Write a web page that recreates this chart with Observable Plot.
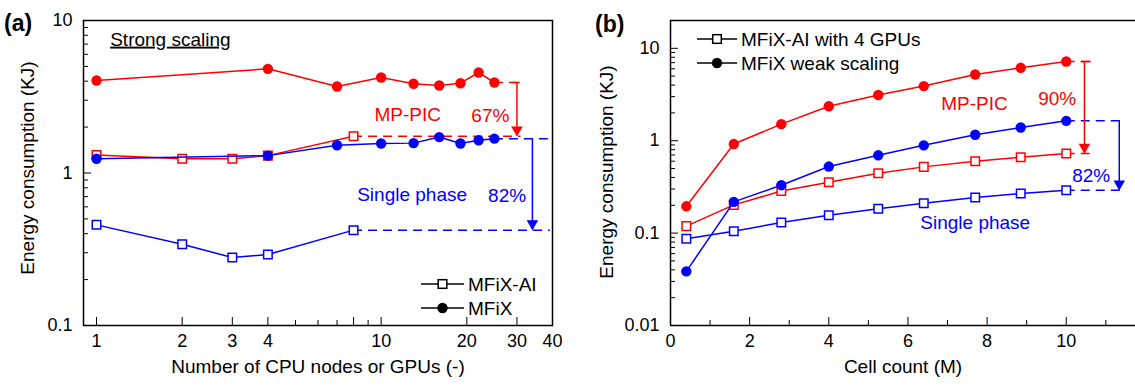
<!DOCTYPE html>
<html><head><meta charset="utf-8">
<script src="https://cdn.jsdelivr.net/npm/d3@7"></script>
<script src="https://cdn.jsdelivr.net/npm/@observablehq/plot@0.6"></script>
<style>
body{margin:0;background:#fff;overflow:hidden}
#wrap{position:relative;width:1135px;height:386px;font-family:"Liberation Sans",Arial,sans-serif;background:#fff}
#wrap > svg, #wrap > div.p{position:absolute;top:0}
.tag{position:absolute;font-weight:bold;font-size:23px;color:#000}
</style>
</head><body><div id="wrap"></div>
<script>
// ---------- data: panel (a) strong scaling ----------
const aNodes = [1, 4, 7, 10, 13, 16, 19, 22, 25];
const aMfixMPPIC = [4.04, 4.82, 3.69, 4.23, 3.85, 3.75, 3.88, 4.56, 3.92];
const aMfixSingle = [1.24, 1.30, 1.52, 1.56, 1.57, 1.72, 1.56, 1.64, 1.68];
const aGpus = [1, 2, 3, 4, 8];
const aAiMPPIC = [1.31, 1.24, 1.24, 1.30, 1.74];
const aAiSingle = [0.457, 0.341, 0.279, 0.292, 0.422];
const aXLabels = [1, 2, 3, 4, 8, 10, 20, 30, 40];
const aXMinor = [5, 6, 7, 9];
const aYLabels = [0.1, 1, 10];
const aYMinor = [0.2,0.3,0.4,0.5,0.6,0.7,0.8,0.9,2,3,4,5,6,7,8,9];

// ---------- data: panel (b) weak scaling ----------
const bCells = [0.4, 1.6, 2.8, 4.0, 5.25, 6.4, 7.7, 8.85, 10];
const bMfixMPPIC = [0.195, 0.92, 1.51, 2.36, 3.12, 3.90, 5.21, 6.15, 7.19];
const bMfixSingle = [0.0385, 0.218, 0.33, 0.525, 0.695, 0.891, 1.16, 1.39, 1.64];
const bAiMPPIC = [0.119, 0.202, 0.285, 0.356, 0.445, 0.521, 0.600, 0.662, 0.725];
const bAiSingle = [0.0869, 0.105, 0.130, 0.156, 0.183, 0.211, 0.243, 0.268, 0.291];
const bXLabels = [0, 2, 4, 6, 8, 10];
const bXMinor = [1, 3, 5, 7, 9, 11];
const bYLabels = [0.01, 0.1, 1, 10];
const bYMinor = [0.02,0.03,0.04,0.05,0.06,0.07,0.08,0.09,0.2,0.3,0.4,0.5,0.6,0.7,0.8,0.9,2,3,4,5,6,7,8,9,20];

const RED = "#ff0000", BLUE = "#0000ff";
const FONT = '"Liberation Sans", Arial, sans-serif';

function pts(xs, ys){ return xs.map((x,i)=>({x, y: ys[i]})); }
function series(xs, ys, color, kind){
  const d = pts(xs, ys);
  return [
    Plot.line(d, {x:"x", y:"y", stroke: color, strokeWidth: 1.5}),
    kind === "circle"
      ? Plot.dot(d, {x:"x", y:"y", r: 5.2, fill: color, stroke: "none"})
      : Plot.dot(d, {x:"x", y:"y", symbol: "square", r: 4.8, fill: "white", stroke: color, strokeWidth: 1.5})
  ];
}
function dashH(x1, x2, y, color){
  return Plot.ruleY([{x1, x2, y}], {x1:"x1", x2:"x2", y:"y", stroke: color, strokeWidth: 1.5, strokeDasharray: "9,6"});
}
function arrowV(x, y1, y2, color){
  return [
    Plot.ruleX([{x, y1, y2}], {x:"x", y1:"y1", y2:"y2", stroke: color, strokeWidth: 1.5}),
    Plot.dot([{x, y: y2}], {x:"x", y:"y", symbol:"triangle", rotate: 180, r: 4.3, fill: color, stroke: "none", dy: -6.5})
  ];
}
function cap(x1, x2, y, color){
  return Plot.ruleY([{x1, x2, y}], {x1:"x1", x2:"x2", y:"y", stroke: color, strokeWidth: 1.5});
}
function label(text, x, y, color, anchor){
  return Plot.text([{text, x, y}], {x:"x", y:"y", text:"text", fill: color, fontSize: 19, textAnchor: anchor || "middle", lineAnchor: "middle"});
}
function axes(xLab, xMin, yLab, yMin, xFmt){
  return [
    Plot.axisX({ticks: xLab, tickSize: -8, tickPadding: 17, tickFormat: xFmt || (d => String(d)), fontSize: 18, label: null}),
    Plot.axisX({ticks: xMin, tickSize: -5, tickFormat: () => "", label: null}),
    Plot.axisY({ticks: yLab, tickSize: -8, tickPadding: 19, tickFormat: d => String(d), fontSize: 18, label: null}),
    Plot.axisY({ticks: yMin, tickSize: -5, tickFormat: () => "", label: null})
  ];
}

const wrap = document.getElementById("wrap");

// ---------- panel (a) ----------
const aLastR = aMfixMPPIC[aMfixMPPIC.length-1], aLastB = aMfixSingle[aMfixSingle.length-1];
const aSqR = aAiMPPIC[aAiMPPIC.length-1], aSqB = aAiSingle[aAiSingle.length-1];
const plotA = Plot.plot({
  width: 565, height: 386,
  marginLeft: 83, marginRight: 13, marginTop: 20, marginBottom: 61,
  style: {fontFamily: FONT, fontSize: "18px", color: "#000", background: "transparent", overflow: "visible"},
  x: {type: "log", domain: [0.9, 40]},
  y: {type: "log", domain: [0.1, 10]},
  marks: [
    ...axes(aXLabels, aXMinor, aYLabels, aYMinor),
    dashH(25, 30.7, aLastR, RED),
    cap(29.1, 30.8, aLastR, RED),
    dashH(8, 31, aSqR, RED),
    dashH(25, 39.3, aLastB, BLUE),
    dashH(8, 39.3, aSqB, BLUE),
    ...arrowV(30, aLastR, aSqR, RED),
    ...arrowV(34, aLastB, aSqB, BLUE),
    ...series(aNodes, aMfixMPPIC, RED, "circle"),
    ...series(aGpus, aAiMPPIC, RED, "square"),
    ...series(aGpus, aAiSingle, BLUE, "square"),
    ...series(aNodes, aMfixSingle, BLUE, "circle"),
    label("MP-PIC", 12.4, 2.42, RED),
    label("67%", 24.2, 2.38, RED),
    label("Single phase", 12.85, 0.72, BLUE),
    label("82%", 27.7, 0.712, BLUE),
    Plot.text([{text:"Strong scaling", x: 1.117, y: 7.5}], {x:"x", y:"y", text:"text", fill:"#000", fontSize: 19, textAnchor:"start", lineAnchor:"middle"}),
    Plot.text(["Number of CPU nodes or GPUs (-)"], {frameAnchor: "bottom", dy: 47, fontSize: 19, fill:"#000"}),
    Plot.frame({stroke: "#000", strokeWidth: 1.5})
  ]
});
plotA.style.left = "0px";
wrap.appendChild(plotA);
plotA.querySelectorAll("text").forEach(t => { if (t.textContent === "Strong scaling") t.style.textDecoration = "underline"; });

// ---------- panel (b) ----------
const n = bCells.length - 1;
const bXmax = 11.75, bYmin = 0.01, bYmax = 20;
const plotB = Plot.plot({
  width: 570, height: 386,
  marginLeft: 105, marginRight: 0, marginTop: 20, marginBottom: 61,
  style: {fontFamily: FONT, fontSize: "18px", color: "#000", background: "transparent", overflow: "visible"},
  x: {type: "linear", domain: [0, bXmax]},
  y: {type: "log", domain: [bYmin, bYmax]},
  marks: [
    ...axes(bXLabels, bXMinor, bYLabels, bYMinor),
    dashH(bCells[n], 10.63, bMfixMPPIC[n], RED),
    cap(10.38, 10.63, bMfixMPPIC[n], RED),
    dashH(bCells[n], 10.63, bAiMPPIC[n], RED),
    dashH(bCells[n], 11.45, bMfixSingle[n], BLUE),
    dashH(bCells[n], 11.45, bAiSingle[n], BLUE),
    ...arrowV(10.46, bMfixMPPIC[n], bAiMPPIC[n], RED),
    ...arrowV(11.34, bMfixSingle[n], bAiSingle[n], BLUE),
    ...series(bCells, bMfixMPPIC, RED, "circle"),
    ...series(bCells, bAiMPPIC, RED, "square"),
    ...series(bCells, bAiSingle, BLUE, "square"),
    ...series(bCells, bMfixSingle, BLUE, "circle"),
    label("MP-PIC", 7.68, 2.51, RED),
    label("90%", 9.77, 2.84, RED),
    label("82%", 10.63, 0.42, BLUE),
    label("Single phase", 7.70, 0.128, BLUE),
    Plot.text(["Cell count (M)"], {frameAnchor: "bottom", dy: 47, fontSize: 19, fill:"#000"}),
    Plot.ruleX([0], {stroke:"#000", strokeWidth: 1.5}),
    Plot.ruleY([bYmin], {stroke:"#000", strokeWidth: 1.5}),
    Plot.ruleY([bYmax], {stroke:"#000", strokeWidth: 1.5})
  ]
});
plotB.style.left = "565px";
wrap.appendChild(plotB);

// ---------- tags, y titles and legends ----------
function tag(text, left, top){
  const d = document.createElement("div"); d.className = "tag"; d.textContent = text;
  d.style.left = left + "px"; d.style.top = top + "px"; wrap.appendChild(d);
}
tag("(a)", 4, 10);
tag("(b)", 595, 11);

const ov = d3.select(wrap).append("svg").attr("width", 1135).attr("height", 386)
  .style("position","absolute").style("left","0px").style("top","0px").style("pointer-events","none");
function yTitle(text, cx, cy){
  ov.append("text").attr("transform", `translate(${cx},${cy}) rotate(-90)`)
    .attr("text-anchor","middle").attr("dy","0.35em").attr("font-size", 19).attr("font-family", FONT).attr("fill","#000").text(text);
}
yTitle("Energy consumption (KJ)", 27, 168);
yTitle("Energy consumption (KJ)", 606, 172);
function legend(x0, x1, y0, dy, items){
  items.forEach((it, i) => {
    const y = y0 + i*dy, xm = (x0+x1)/2;
    ov.append("line").attr("x1", x0).attr("x2", x1).attr("y1", y).attr("y2", y).attr("stroke","#000").attr("stroke-width",1.5);
    if (it.kind === "square") ov.append("rect").attr("x", xm-4.3).attr("y", y-4.3).attr("width", 8.6).attr("height", 8.6).attr("fill","#fff").attr("stroke","#000").attr("stroke-width",1.5);
    else ov.append("circle").attr("cx", xm).attr("cy", y).attr("r", 5.2).attr("fill","#000");
    ov.append("text").attr("x", x1 + 4).attr("y", y).attr("dy","0.35em").attr("font-size", 19).attr("font-family", FONT).attr("fill","#000").text(it.label);
  });
}
legend(421, 464, 284, 24, [{label:"MFiX-AI", kind:"square"}, {label:"MFiX", kind:"circle"}]);
legend(697, 737, 39, 24, [{label:"MFiX-AI with 4 GPUs", kind:"square"}, {label:"MFiX weak scaling", kind:"circle"}]);
</script></body></html>
